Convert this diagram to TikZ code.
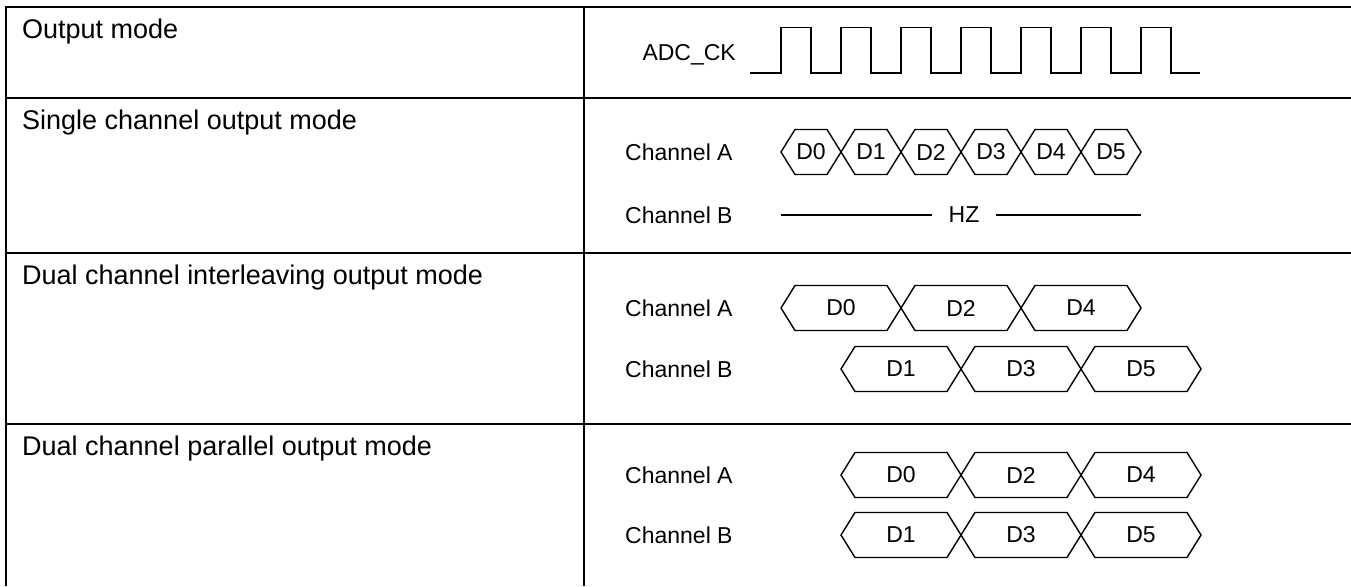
\documentclass[tikz,border=0pt]{standalone}
\usepackage{fontspec}
\setmainfont{Liberation Sans}
\newcommand{\dseg}[5]{%
  \draw[sig] (#1,#3) -- ({#1+14},{#3-22.5}) -- ({#2-14},{#3-22.5}) -- (#2,#3)
     -- ({#2-14},{#3+22.5}) -- ({#1+14},{#3+22.5}) -- cycle;
  \node[txt] (#5) at ({(#1+#2)/2},#3) {#4};}
\begin{document}
\begin{tikzpicture}[x=1pt,y=-1pt,
  tbl/.style={line width=2.3pt},
  sig/.style={line width=1.4pt, line join=miter},
  lbl/.style={font=\fontsize{27}{32}\selectfont, anchor=base west, inner sep=0pt},
  txt/.style={font=\fontsize{23}{28}\selectfont, inner sep=0pt},
  chn/.style={txt, anchor=base west}]
\useasboundingbox (0,0) rectangle (1351,586);
% table
\draw[tbl] (6,586) -- (6,6.7) -- (1351,6.7);
\draw[tbl] (584,6.7) -- (584,586);
\foreach \y in {98,253,424} \draw[tbl] (6,\y) -- (1351,\y);
% row labels
\node[lbl] (l1) at (22,38) {Output mode};
\node[lbl] (l2) at (22,129) {Single channel output mode};
\node[lbl] (l3) at (22,284) {Dual channel interleaving output mode};
\node[lbl] (l4) at (22,455) {Dual channel parallel output mode};
% clock
\node[txt, anchor=base east] (ck) at (736,60) {ADC\_CK};
\draw[sig] (750,73) \foreach \k in {0,...,6} { -- ({781+60*\k},73) -- ({781+60*\k},27.7) -- ({811+60*\k},27.7) -- ({811+60*\k},73) } -- (1200,73);
% single channel
\node[chn] (sa) at (625,160.3) {Channel A};
\node[chn] (sb) at (625,223.3) {Channel B};
\foreach \k/\d in {0/D0,1/D1,2/D2,3/D3,4/D4,5/D5} {\dseg{781+60*\k}{841+60*\k}{152}{\d}{s\d}}
\node[txt, inner xsep=16pt] (hz) at (964,215) {HZ};
\coordinate (hzA) at (781,215);
\coordinate (hzB) at (1141,215);
\draw[sig] (hzA) -- (hz.west);
\draw[sig] (hz.east) -- (hzB);
% interleaving
\node[chn] (ia) at (625,316.3) {Channel A};
\node[chn] (ib) at (625,377.3) {Channel B};
\dseg{781}{901}{308}{D0}{i0}
\dseg{901}{1021}{308}{D2}{i2}
\dseg{1021}{1141}{308}{D4}{i4}
\dseg{841}{961}{369}{D1}{i1}
\dseg{961}{1081}{369}{D3}{i3}
\dseg{1081}{1201}{369}{D5}{i5}
% parallel
\node[chn] (pa) at (625,483.3) {Channel A};
\node[chn] (pb) at (625,543.3) {Channel B};
\dseg{841}{961}{475}{D0}{p0}
\dseg{961}{1081}{475}{D2}{p2}
\dseg{1081}{1201}{475}{D4}{p4}
\dseg{841}{961}{535}{D1}{p1}
\dseg{961}{1081}{535}{D3}{p3}
\dseg{1081}{1201}{535}{D5}{p5}
\end{tikzpicture}
\end{document}
